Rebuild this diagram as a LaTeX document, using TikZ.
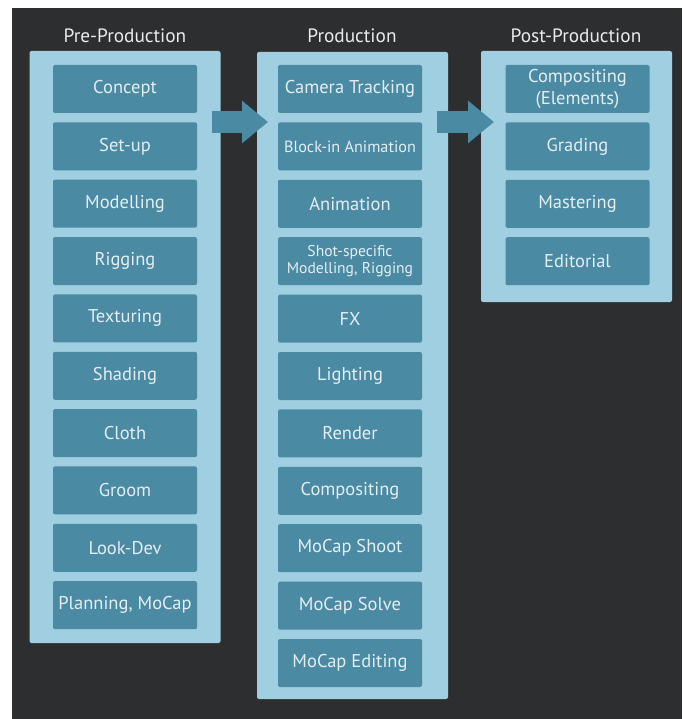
\documentclass[tikz,border=0pt]{standalone}
\usepackage{fontspec}
\setmainfont{PT Sans}
\usetikzlibrary{arrows.meta}
\definecolor{bgdark}{HTML}{2D2E30}
\definecolor{panelc}{HTML}{9FCFE0}
\definecolor{boxc}{HTML}{4B8AA3}
\definecolor{txtc}{HTML}{E3EEF2}
\begin{document}
\begin{tikzpicture}[x=1pt,y=-1pt,
  panel/.style={fill=panelc,draw=none,rounded corners=2pt,minimum width=191pt,inner sep=0pt},
  stagebox/.style={fill=boxc,draw=none,rounded corners=2pt,minimum width=144pt,minimum height=48pt,inner sep=0pt,text=txtc,font=\fontsize{18.5}{20}\selectfont,align=center},
  smallbox/.style={stagebox,font=\fontsize{16.2}{18}\selectfont},
  tinybox/.style={stagebox,font=\fontsize{15.6}{17}\selectfont},
  title/.style={text=white!92!black,font=\fontsize{19.3}{21}\selectfont,inner sep=0pt},
  bigarrow/.style={draw=boxc,line width=22pt,-{Triangle[length=26pt,width=41pt]}}]
\useasboundingbox (0,0) rectangle (682,719);
\fill[white] (0,0) rectangle (682,719);
\fill[bgdark] (12,8) rectangle (682,719);
% panels
\node[panel,minimum height=592pt] (pre) at (125,347) {};
\node[panel,minimum height=647pt] (prod) at (352.5,375.5) {};
\node[panel,minimum height=251pt] (post) at (576.5,176.5) {};
% titles
\node[title] (tpre) at (125,36) {Pre-Production};
\node[title] (tprod) at (352,36) {Production};
\node[title] (tpost) at (576,36) {Post-Production};
% pre-production boxes
\foreach \t [count=\i from 0] in {Concept,Set-up,Modelling,Rigging,Texturing,Shading,Cloth,Groom,Look-Dev,{Planning, MoCap}}
  \node[stagebox] (pre\i) at (125,89+57.35*\i) {\t};
% production boxes
\node[stagebox] (p0) at (350,89) {Camera Tracking};
\node[smallbox] (p1) at (350,146.4) {Block-in Animation};
\node[stagebox] (p2) at (350,203.8) {Animation};
\node[tinybox] (p3) at (350,261.2) {Shot-specific\\Modelling, Rigging};
\foreach \t [count=\i from 4] in {FX,Lighting,Render,Compositing,MoCap Shoot,MoCap Solve,MoCap Editing}
  \node[stagebox] (p\i) at (350,89+57.4*\i) {\t};
% post-production boxes
\node[stagebox,font=\fontsize{18.5}{22}\selectfont] (q0) at (577.5,89) {Compositing\\(Elements)};
\foreach \t [count=\i from 1] in {Grading,Mastering,Editorial}
  \node[stagebox] (q\i) at (577.5,89+57.4*\i) {\t};
% arrows
\coordinate (a1s) at (212,122);
\coordinate (a1e) at (268,122);
\coordinate (a2s) at (437,122);
\coordinate (a2e) at (494,122);
\draw[bigarrow] (a1s) -- (a1e);
\draw[bigarrow] (a2s) -- (a2e);
\end{tikzpicture}
\end{document}
